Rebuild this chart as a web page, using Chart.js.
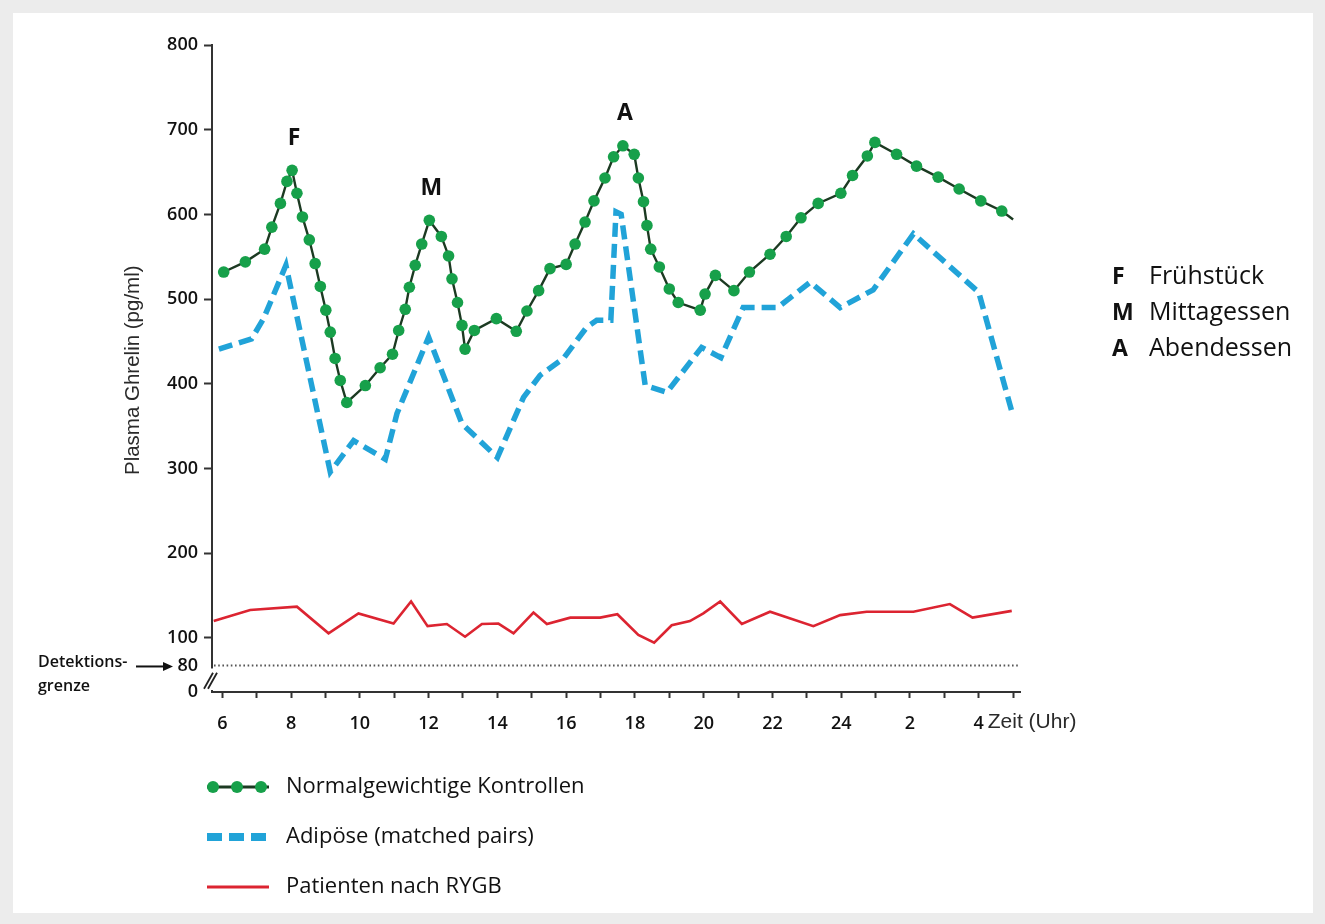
<!DOCTYPE html>
<html>
<head>
<meta charset="utf-8">
<script src="https://cdn.jsdelivr.net/npm/chart.js@4.4.1/dist/chart.umd.min.js"></script>
<style>
  html, body { margin: 0; padding: 0; background: #ececec; }
  #wrap { width: 1325px; height: 924px; }
  canvas { display: block; }
</style>
</head>
<body>
<div id="wrap"><canvas id="ghrelin" width="1325" height="924"></canvas></div>
<script>
// Zeit in Stunden ab Mitternacht des ersten Tages (26 = 2 Uhr, 28 = 4 Uhr am Folgetag)
const kontrollenZeit = [6.04, 6.67, 7.23, 7.44, 7.69, 7.88, 8.03, 8.17, 8.33, 8.53, 8.70, 8.85, 9.01, 9.14, 9.28, 9.43, 9.62,
  10.16, 10.59, 10.95, 11.13, 11.32, 11.44, 11.61, 11.80, 12.02, 12.37, 12.58, 12.68, 12.84, 12.97, 13.06, 13.33,
  13.97, 14.55, 14.86, 15.20, 15.53, 16.00, 16.26, 16.55, 16.81, 17.13, 17.38, 17.65, 17.98, 18.10, 18.25, 18.35,
  18.46, 18.71, 19.00, 19.26, 19.90, 20.04, 20.34, 20.88, 21.33, 21.93, 22.40, 22.83, 23.33, 23.99, 24.33, 24.76,
  24.98, 25.61, 26.19, 26.82, 27.43, 28.06, 28.67, 29.00];
const kontrollenWerte = [532, 544, 559, 585, 613, 639, 652, 625, 597, 570, 542, 515, 487, 461, 430, 404, 378,
  398, 419, 435, 463, 488, 514, 540, 565, 593, 574, 551, 524, 496, 469, 441, 463,
  477, 462, 486, 510, 536, 541, 565, 591, 616, 643, 668, 681, 671, 643, 615, 587,
  559, 538, 512, 496, 487, 506, 528, 510, 532, 553, 574, 596, 613, 625, 646, 669,
  685, 671, 657, 644, 630, 616, 604, 594];

const adipoeseZeit = [5.9, 6.85, 7.2, 7.85, 9.14, 9.82, 10.74, 11.08, 12.0, 12.97, 14.0, 14.76, 15.24, 15.92, 16.6,
  16.89, 17.3, 17.45, 17.6, 18.3, 18.93, 19.94, 20.5, 21.15, 22.15, 23.1, 23.97, 24.93, 26.1, 28.0, 28.95];
const adipoeseWerte = [441, 453, 477, 540, 296, 333, 311, 365, 455, 353, 313, 384, 410, 430, 467,
  475, 475, 603, 600, 398, 390, 443, 431, 490, 490, 520, 490, 511, 577, 508, 369];

const rygbZeit = [5.75, 6.81, 8.17, 9.09, 9.96, 10.98, 11.49, 11.97, 12.53, 13.06, 13.55, 14.03, 14.47, 15.05, 15.44,
  16.12, 16.99, 17.49, 18.10, 18.56, 19.07, 19.6, 19.99, 20.48, 21.11, 21.93, 23.19, 23.97, 24.74, 26.1, 27.16,
  27.82, 28.96];
const rygbWerte = [120, 133, 137, 105.5, 129, 117, 143, 114, 116.5, 101.5, 116.5, 117, 105.5, 130, 116.5,
  124, 124, 128, 103.5, 96.5, 115, 120, 129, 143, 116.5, 131, 114, 127, 131, 131, 140,
  124, 132];

const detektionsgrenze = 80;

const yTickWerte = [0, 80, 100, 200, 300, 400, 500, 600, 700, 800];
const stundenTicks = [6, 7, 8, 9, 10, 11, 12, 13, 14, 15, 16, 17, 18, 19, 20, 21, 22, 23, 24, 25, 26, 27, 28, 29];
const labelStunden = [6, 8, 10, 12, 14, 16, 18, 20, 22, 24, 26, 28];
const labelTexte = ['6', '8', '10', '12', '14', '16', '18', '20', '22', '24', '2', '4'];

const mahlzeitBuchstaben = ['F', 'M', 'A'];
const mahlzeitNamen = ['Frühstück', 'Mittagessen', 'Abendessen'];
const mahlzeitZeit = [8, 12, 17.5];

// Geometrie der unterbrochenen y-Achse: Wert -> Anteil der Achsenhöhe
const achsenBruch = { werte: [0, 80, 100, 800], anteile: [0, 0.041, 0.0835, 1] };

class GebrocheneAchse extends Chart.LinearScale {
  getPixelForValue(value) {
    if (value === null || value === undefined) return NaN;
    const w = achsenBruch.werte, a = achsenBruch.anteile;
    let i = 0;
    while (i < w.length - 2 && value > w[i + 1]) i++;
    const d = a[i] + (value - w[i]) / (w[i + 1] - w[i]) * (a[i + 1] - a[i]);
    return this.getPixelForDecimal(d);
  }
  getValueForPixel(pixel) {
    const d = this.getDecimalForPixel(pixel);
    const w = achsenBruch.werte, a = achsenBruch.anteile;
    let i = 0;
    while (i < a.length - 2 && d > a[i + 1]) i++;
    return w[i] + (d - a[i]) / (a[i + 1] - a[i]) * (w[i + 1] - w[i]);
  }
}
GebrocheneAchse.id = 'gebrochen';
GebrocheneAchse.defaults = Chart.LinearScale.defaults;
Chart.register(GebrocheneAchse);

const punkte = (zeit, werte) => zeit.map((t, i) => ({ x: t, y: werte[i] }));

const SANS = '"Open Sans", "DejaVu Sans", sans-serif';
const ARIAL = '"Liberation Sans", Arial, sans-serif';

// Hintergrund: grauer Rand mit weißer Fläche
const hintergrund = {
  id: 'hintergrund',
  beforeDraw(chart) {
    const c = chart.ctx;
    c.save();
    c.fillStyle = '#ececec';
    c.fillRect(0, 0, chart.width, chart.height);
    c.fillStyle = '#ffffff';
    c.fillRect(13, 13, 1300, 900);
    c.restore();
  }
};

// Detektionsgrenze als gepunktete Linie und Achsenbruch
const grenzeUndBruch = {
  id: 'grenzeUndBruch',
  beforeDatasetsDraw(chart) {
    const c = chart.ctx, ys = chart.scales.y, area = chart.chartArea;
    const yG = ys.getPixelForValue(detektionsgrenze);
    c.save();
    c.strokeStyle = '#555';
    c.lineWidth = 2;
    c.setLineDash([1.6, 2.6]);
    c.beginPath();
    c.moveTo(area.left + 2, yG);
    c.lineTo(area.right, yG);
    c.stroke();
    c.setLineDash([]);
    // Lücke in der y-Achse zwischen 0 und Detektionsgrenze
    const y0 = ys.getPixelForValue(0);
    const mitte = (y0 + yG) / 2 + 2;
    c.fillStyle = '#ffffff';
    c.fillRect(area.left - 3, yG + 3, 6, y0 - yG - 5);
    c.strokeStyle = '#222';
    c.lineWidth = 1.8;
    for (const dx of [-4, 0]) {
      c.beginPath();
      c.moveTo(area.left + dx - 4, mitte + 8);
      c.lineTo(area.left + dx + 5, mitte - 8);
      c.stroke();
    }
    c.restore();
  }
};

// Beschriftungen, Mahlzeiten und Legende
const texte = {
  id: 'texte',
  afterDraw(chart) {
    const c = chart.ctx, xs = chart.scales.x, ys = chart.scales.y, area = chart.chartArea;
    c.save();
    c.textBaseline = 'middle';

    // y-Achsentitel
    c.save();
    c.translate(133, (area.top + ys.getPixelForValue(detektionsgrenze)) / 2 + 15);
    c.rotate(-Math.PI / 2);
    c.fillStyle = '#2a2a2a';
    c.font = '20.5px ' + ARIAL;
    c.textAlign = 'center';
    c.fillText('Plasma Ghrelin (pg/ml)', 0, 0);
    c.restore();

    // x-Achsentitel neben der letzten Beschriftung
    c.fillStyle = '#2a2a2a';
    c.font = '21px ' + ARIAL;
    c.textAlign = 'left';
    c.fillText('Zeit (Uhr)', xs.getPixelForValue(labelStunden[labelStunden.length - 1]) + 9, 722);

    // Detektionsgrenze mit Pfeil
    const yG = ys.getPixelForValue(detektionsgrenze);
    c.fillStyle = '#111';
    c.font = '600 16px ' + SANS;
    c.fillText('Detektions-', 38, yG - 3);
    c.fillText('grenze', 38, yG + 21);
    c.strokeStyle = '#111';
    c.lineWidth = 2;
    c.beginPath();
    c.moveTo(136, yG + 1);
    c.lineTo(166, yG + 1);
    c.stroke();
    c.beginPath();
    c.moveTo(173, yG + 1);
    c.lineTo(163, yG - 3.5);
    c.lineTo(163, yG + 5.5);
    c.closePath();
    c.fill();

    // Mahlzeiten über den Gipfeln der Kontrollkurve
    c.font = 'bold 23px ' + SANS;
    c.textAlign = 'center';
    c.fillStyle = '#111';
    mahlzeitZeit.forEach((t, k) => {
      let best = -1;
      kontrollenZeit.forEach((z, i) => {
        if (Math.abs(z - t) <= 1 && (best < 0 || kontrollenWerte[i] > kontrollenWerte[best])) best = i;
      });
      const px = xs.getPixelForValue(kontrollenZeit[best]);
      const py = ys.getPixelForValue(kontrollenWerte[best]);
      c.fillText(mahlzeitBuchstaben[k], px + 2, py - 32);
    });

    // Erklärung der Buchstaben rechts
    mahlzeitBuchstaben.forEach((b, k) => {
      const y = 277 + k * 36;
      c.textAlign = 'left';
      c.font = 'bold 23px ' + SANS;
      c.fillText(b, 1112, y);
      c.font = '25px ' + SANS;
      c.fillText(mahlzeitNamen[k], 1149, y);
    });

    // Legende der Gruppen
    const ds = chart.data.datasets.filter(d => d.inLegende);
    ds.forEach((d, k) => {
      const y = 787 + k * 50;
      const x0 = 207, x1 = 269;
      c.save();
      c.strokeStyle = d.borderColor;
      if (d.legendeStrich) {
        c.lineWidth = d.legendeStrich;
        c.setLineDash([15, 7]);
        c.beginPath(); c.moveTo(x0, y); c.lineTo(x1, y); c.stroke();
      } else {
        c.lineWidth = d.borderWidth + 0.5;
        c.beginPath(); c.moveTo(x0, y); c.lineTo(x1, y); c.stroke();
      }
      if (d.legendePunkte) {
        c.fillStyle = d.pointBackgroundColor;
        [213, 237, 261].forEach(x => { c.beginPath(); c.arc(x, y, 6, 0, Math.PI * 2); c.fill(); });
      }
      c.restore();
      c.fillStyle = '#111';
      c.font = '22px ' + SANS;
      c.textAlign = 'left';
      c.fillText(d.label, 286, y);
    });
    c.restore();
  }
};

function zeichne() {
  new Chart(document.getElementById('ghrelin'), {
    type: 'line',
    data: {
      datasets: [
        {
          label: 'Normalgewichtige Kontrollen',
          data: punkte(kontrollenZeit, kontrollenWerte),
          borderColor: '#1c3a22',
          borderWidth: 2.4,
          pointBackgroundColor: '#17a04a',
          pointBorderWidth: 0,
          pointRadius: ctx => (ctx.dataIndex === kontrollenZeit.length - 1 ? 0 : 5.8),
          tension: 0,
          inLegende: true,
          legendePunkte: true
        },
        {
          label: 'Adipöse (matched pairs)',
          data: punkte(adipoeseZeit, adipoeseWerte),
          borderColor: '#21a3d8',
          borderWidth: 5.5,
          borderDash: [14, 7],
          pointRadius: 0,
          tension: 0,
          inLegende: true,
          legendeStrich: 8
        },
        {
          label: 'Patienten nach RYGB',
          data: punkte(rygbZeit, rygbWerte),
          borderColor: '#dc2431',
          borderWidth: 2.6,
          pointRadius: 0,
          tension: 0,
          inLegende: true
        }
      ]
    },
    options: {
      responsive: false,
      animation: false,
      devicePixelRatio: 1,
      layout: { padding: { left: 150, right: 305, top: 45, bottom: 150 } },
      plugins: { legend: { display: false }, tooltip: { enabled: false } },
      scales: {
        x: {
          type: 'linear',
          position: 'bottom',
          min: 5.7,
          max: 29.2,
          afterBuildTicks: s => { s.ticks = stundenTicks.map(v => ({ value: v })); },
          afterFit: s => { s.height = 82; },
          border: { color: '#333', width: 2 },
          grid: { drawOnChartArea: false, drawTicks: true, tickLength: 6, tickWidth: 2, tickColor: '#333' },
          ticks: {
            autoSkip: false,
            maxRotation: 0,
            padding: 15,
            color: '#111',
            font: { family: SANS, size: 18, weight: '600' },
            callback: v => {
              const i = labelStunden.indexOf(v);
              return i >= 0 ? labelTexte[i] : '';
            }
          }
        },
        y: {
          type: 'gebrochen',
          position: 'left',
          min: 0,
          max: 800,
          afterBuildTicks: s => { s.ticks = yTickWerte.map(v => ({ value: v })); },
          afterFit: s => { s.width = 62; },
          border: { color: '#333', width: 2 },
          grid: {
            drawOnChartArea: false,
            drawTicks: true,
            tickLength: 8,
            tickWidth: 2,
            tickColor: ctx => (ctx.tick && ctx.tick.value <= detektionsgrenze ? 'rgba(0,0,0,0)' : '#333')
          },
          ticks: {
            autoSkip: false,
            padding: 6,
            color: '#111',
            font: { family: SANS, size: 18, weight: '600' },
            callback: v => String(v)
          }
        }
      }
    },
    plugins: [hintergrund, grenzeUndBruch, texte]
  });
}

if (document.fonts && document.fonts.load) {
  Promise.all([
    document.fonts.load('600 18px "Open Sans"'),
    document.fonts.load('25px "Open Sans"'),
    document.fonts.load('bold 23px "Open Sans"'),
    document.fonts.load('20px "Liberation Sans"')
  ]).then(zeichne, zeichne);
} else {
  zeichne();
}
</script>
</body>
</html>
